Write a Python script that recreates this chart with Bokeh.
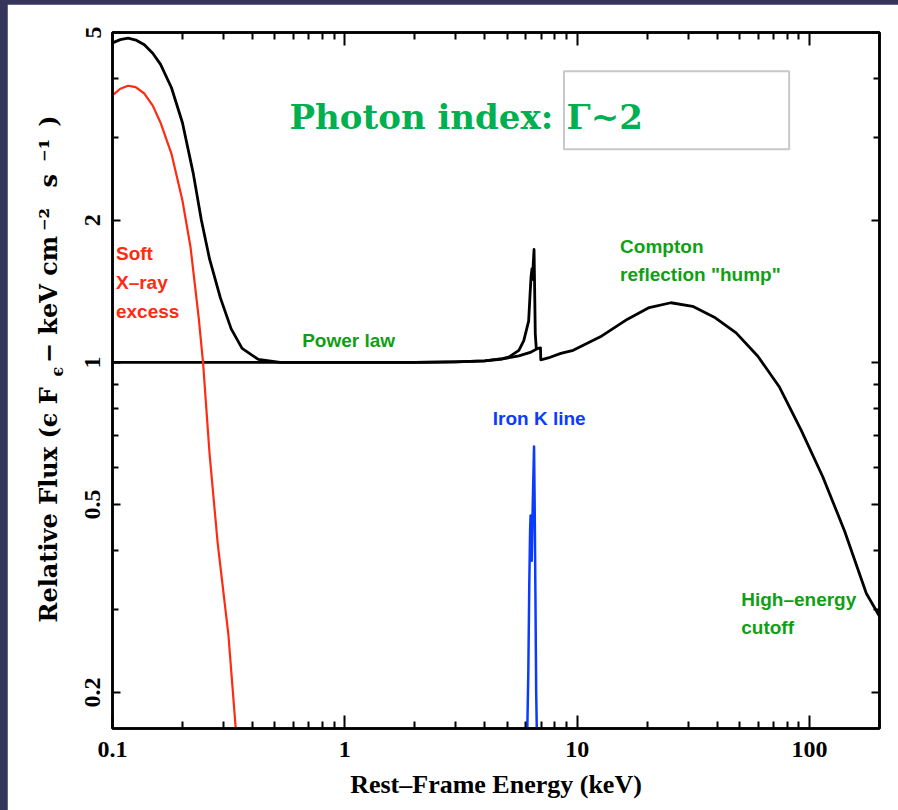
import math
from bokeh.plotting import figure
from bokeh.models import LogAxis, FixedTicker, Label, Range1d
from bokeh.layouts import column
from bokeh.embed import file_html
from bokeh.resources import INLINE

# ---------------- data ----------------
soft_excess_energy = [0.100, 0.108, 0.1167, 0.1258, 0.1371, 0.149, 0.1610, 0.1794, 0.200,
                      0.2167, 0.2348, 0.2453, 0.2616, 0.2835, 0.3156, 0.339]
soft_excess_flux = [3.68, 3.80, 3.857, 3.83, 3.713, 3.50, 3.22, 2.767, 2.203,
                    1.754, 1.247, 1.00, 0.6415, 0.4146, 0.264, 0.168]

total_energy = [0.100, 0.108, 0.1167, 0.126, 0.1371, 0.149, 0.1610, 0.1794, 0.200, 0.2226,
                0.2412, 0.2616, 0.2913, 0.3242, 0.3612, 0.4242, 0.5262, 0.70, 1.0, 2.0,
                3.0, 4.0, 4.77, 5.07, 5.61, 5.89, 6.18, 6.27, 6.33, 6.39,
                6.42, 6.47, 6.52, 6.55, 6.60, 6.67]
total_flux = [4.753, 4.83, 4.863, 4.82, 4.708, 4.52, 4.28, 3.819, 3.220, 2.515,
              2.003, 1.657, 1.370, 1.178, 1.071, 1.015, 1.000, 1.0, 1.0, 1.0,
              1.003, 1.008, 1.019, 1.026, 1.061, 1.112, 1.223, 1.40, 1.52, 1.58,
              1.50, 1.62, 1.735, 1.50, 1.15, 1.066]

continuum_energy = [0.1, 1.0, 2.0, 3.0, 4.0, 4.77, 5.61, 6.33, 6.78, 6.95,
                    6.97, 7.5, 8.5, 9.61, 12.58, 16.46, 20.42, 25.32, 31.38, 38.9,
                    48.3, 59.9, 74.3, 92.0, 114.1, 141.6, 175.6, 200.0]
continuum_flux = [1.0, 1.0, 1.0, 1.003, 1.008, 1.017, 1.033, 1.052, 1.071, 1.073,
                  1.013, 1.022, 1.045, 1.061, 1.133, 1.235, 1.307, 1.338, 1.315, 1.247,
                  1.155, 1.031, 0.886, 0.719, 0.572, 0.439, 0.324, 0.29]

iron_energy = [6.10, 6.16, 6.22, 6.27, 6.30, 6.34, 6.37, 6.42, 6.47, 6.52, 6.56, 6.61, 6.66, 6.70]
iron_flux = [0.168, 0.22, 0.34, 0.44, 0.474, 0.40, 0.38, 0.47, 0.56, 0.664, 0.50, 0.32, 0.20, 0.168]

x_ticks = [0.1, 1, 10, 100]
x_tick_labels = ["0.1", "1", "10", "100"]
x_minor_ticks = [0.2, 0.3, 0.4, 0.5, 0.6, 0.7, 0.8, 0.9, 2, 3, 4, 5, 6, 7, 8, 9,
                 20, 30, 40, 50, 60, 70, 80, 90, 200]
y_ticks = [0.2, 0.5, 1, 2, 5]
y_tick_labels = ["0.2", "0.5", "1", "2", "5"]
y_minor_ticks = [0.3, 0.4, 0.6, 0.7, 0.8, 0.9, 3, 4]

# ---------------- styling ----------------
BLACK = "#000000"
RED = "#ff2a10"
BLUE = "#0a3cff"
GREEN = "#0f9f14"
TITLE_GREEN = "#00b050"
SERIF = "Liberation Serif"
YLAB_FONT = "DejaVu Serif"
SANS = "Liberation Sans"

fig = figure(x_axis_type="log", y_axis_type="log",
             x_range=Range1d(0.1, 200), y_range=Range1d(0.1677, 5),
             frame_width=767, frame_height=696,
             min_border_left=105, min_border_right=19, min_border_top=28, min_border_bottom=82,
             output_backend="svg", toolbar_location=None,
             background_fill_color="white", border_fill_color="white")
fig.margin = (4, 0, 0, 7)
fig.grid.visible = False
fig.outline_line_color = BLACK
fig.outline_line_width = 2.5

x_overrides = {t: l for t, l in zip(x_ticks, x_tick_labels)}
y_overrides = {t: l for t, l in zip(y_ticks, y_tick_labels)}


def style_axis(ax, ticks, minor, overrides, show_labels, major_len, minor_len):
    ax.ticker = FixedTicker(ticks=ticks, minor_ticks=minor)
    ax.axis_line_color = BLACK
    ax.axis_line_width = 2.5
    ax.major_tick_in = major_len
    ax.major_tick_out = 0
    ax.minor_tick_in = minor_len
    ax.minor_tick_out = 0
    ax.major_tick_line_width = 2
    ax.minor_tick_line_width = 2
    ax.major_tick_line_color = BLACK
    ax.minor_tick_line_color = BLACK
    ax.major_label_text_font = SERIF
    ax.major_label_text_font_style = "bold"
    if show_labels:
        ax.major_label_overrides = overrides
        ax.major_label_text_font_size = "24px"
        ax.major_label_text_color = BLACK
    else:
        ax.major_label_text_font_size = "1px"
        ax.major_label_text_color = None
        ax.major_label_standoff = 0


xb = fig.xaxis[0]
style_axis(xb, x_ticks, x_minor_ticks, x_overrides, True, 13, 7)
xb.major_label_standoff = 13
xb.axis_label = "Rest–Frame Energy (keV)"
xb.axis_label_text_font = SERIF
xb.axis_label_text_font_style = "bold"
xb.axis_label_text_font_size = "26px"
xb.axis_label_text_color = BLACK
xb.axis_label_standoff = 10

yl = fig.yaxis[0]
style_axis(yl, y_ticks, y_minor_ticks, y_overrides, True, 8, 6)
yl.major_label_orientation = "parallel"
yl.major_label_standoff = 12

xt = LogAxis()
style_axis(xt, x_ticks, x_minor_ticks, x_overrides, False, 13, 7)
fig.add_layout(xt, "above")
yr = LogAxis()
style_axis(yr, y_ticks, y_minor_ticks, y_overrides, False, 8, 6)
fig.add_layout(yr, "right")

# ---------------- curves ----------------
fig.line(continuum_energy, continuum_flux, line_color=BLACK, line_width=2.8, line_join="round")
fig.line(total_energy, total_flux, line_color=BLACK, line_width=2.8, line_join="round")
fig.line(soft_excess_energy, soft_excess_flux, line_color=RED, line_width=2.2, line_join="round")
fig.line(iron_energy, iron_flux, line_color=BLUE, line_width=2.5, line_join="round")

# ---------------- annotations ----------------
def note(x, y, text, color, size="19px", font=SANS, style="bold"):
    fig.add_layout(Label(x=x, y=y, text=text, text_color=color, text_font=font,
                         text_font_size=size, text_font_style=style,
                         text_baseline="alphabetic", text_align="left"))

note(0.1035, 1.705, "Soft", RED)
note(0.1035, 1.475, "X–ray", RED)
note(0.1035, 1.285, "excess", RED)
note(0.655, 1.112, "Power law", GREEN)
note(15.3, 1.758, "Compton", GREEN)
note(15.3, 1.535, "reflection \"hump\"", GREEN)
note(4.33, 0.762, "Iron K line", BLUE)
note(50.8, 0.315, "High–energy", GREEN)
note(50.8, 0.275, "cutoff", GREEN)

# photon index text box
fig.quad(left=[8.77], right=[81.7], top=[4.137], bottom=[2.83],
         fill_color=None, line_color="#c8c8c8", line_width=2)
note(0.578, 3.31, "Photon index:", TITLE_GREEN, size="34px", font=YLAB_FONT)
note(9.0, 3.31, "Γ~2", TITLE_GREEN, size="34px", font=YLAB_FONT)

# y-axis label (rotated, reading upward) in the left panel:
# first the subscript epsilon (column next to the axis), then the main text
def ylab(xs, ys, text, size):
    fig.add_layout(Label(x=xs, y=ys, x_units="screen", y_units="screen", angle=math.pi / 2,
                         text=text, text_font=YLAB_FONT, text_font_size=size,
                         text_font_style="bold", text_color=BLACK,
                         text_baseline="alphabetic", text_align="left"), "left")

ylab(-6, 352, "ϵ", "16px")
ylab(14, 106, "Relative Flux (ϵ F\u2003− keV cm\u2009⁻²\u2002 s\u2002⁻¹\u2002)", "24px")

p = column(fig, styles={"background-color": "#35345a"})

open("out.html", "w").write(file_html(p, INLINE))
